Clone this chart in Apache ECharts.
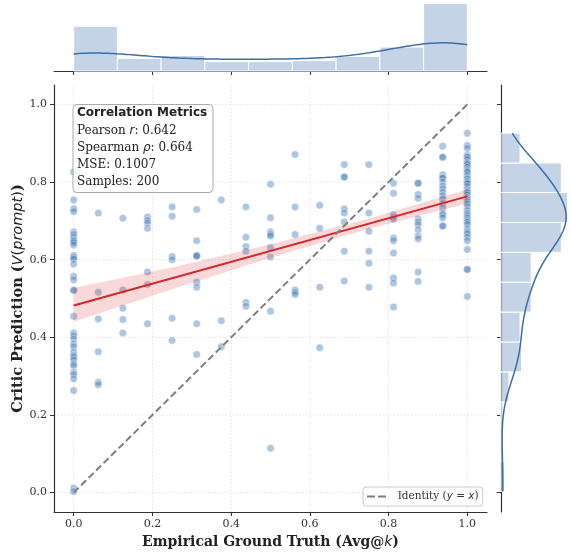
<!DOCTYPE html>
<html><head><meta charset="utf-8">
<script src="https://cdn.jsdelivr.net/npm/echarts@6/dist/echarts.min.js"></script>
<style>html,body{margin:0;padding:0;background:#fff}#c{width:571px;height:554px}</style>
</head><body><div id="c"></div>
<script>
// ---------------- data ----------------
const gtLevels = [0, 0.0625, 0.125, 0.1875, 0.25, 0.3125, 0.375, 0.4375, 0.5, 0.5625, 0.625, 0.6875, 0.75, 0.8125, 0.875, 0.9375, 1.0];
const predAt00 = [0.826,0.754,0.731,0.724,0.671,0.665,0.658,0.651,0.648,0.644,0.638,0.611,0.606,0.602,0.589,0.557,0.548,0.521,0.521,0.454,0.411,0.404,0.396,0.383,0.376,0.362,0.353,0.349,0.342,0.332,0.327,0.31,0.304,0.293,0.263,0.012,0.003];
const predAt01 = [0.72,0.516,0.447,0.363,0.284,0.278];
const predAt02 = [0.707,0.522,0.475,0.446,0.411];
const predAt03 = [0.71,0.701,0.695,0.681,0.568,0.536,0.435];
const predAt04 = [0.736,0.712,0.608,0.6,0.449,0.392];
const predAt05 = [0.729,0.649,0.611,0.611,0.609,0.542,0.529,0.435,0.356];
const predAt06 = [0.754,0.443,0.376];
const predAt07 = [0.736,0.658,0.634,0.622,0.49,0.48];
const predAt08 = [0.794,0.708,0.671,0.665,0.661,0.631,0.607,0.467,0.114];
const predAt09 = [0.871,0.736,0.665,0.522,0.516,0.51];
const predAt10 = [0.74,0.681,0.529,0.373];
const predAt11 = [0.845,0.813,0.813,0.731,0.72,0.697,0.622,0.545];
const predAt12 = [0.845,0.72,0.673,0.622,0.591,0.529];
const predAt13 = [0.797,0.771,0.716,0.71,0.704,0.656,0.649,0.617,0.553,0.54,0.478];
const predAt14 = [0.797,0.797,0.768,0.758,0.705,0.697,0.69,0.677,0.661,0.654,0.568,0.544];
const predAt15 = [0.892,0.864,0.864,0.819,0.812,0.81,0.8,0.79,0.783,0.774,0.765,0.757,0.745,0.734,0.72,0.716,0.708,0.688,0.686];
const predAt16 = [0.926,0.894,0.887,0.87,0.866,0.864,0.858,0.851,0.848,0.845,0.838,0.832,0.828,0.825,0.817,0.811,0.808,0.802,0.799,0.796,0.789,0.781,0.776,0.773,0.767,0.76,0.755,0.75,0.744,0.737,0.727,0.72,0.714,0.708,0.701,0.697,0.691,0.68,0.672,0.667,0.658,0.649,0.626,0.575,0.575,0.505];
const predByLevel = [predAt00,predAt01,predAt02,predAt03,predAt04,predAt05,predAt06,predAt07,predAt08,predAt09,predAt10,predAt11,predAt12,predAt13,predAt14,predAt15,predAt16];

const topHistEdges = [0, 0.1111, 0.2222, 0.3333, 0.4444, 0.5556, 0.6667, 0.7778, 0.8889, 1.0];
const topHistCounts = [43, 12, 15, 9, 9, 10, 14, 23, 65];
const rightHistEdges = [0.003, 0.080, 0.157, 0.234, 0.311, 0.388, 0.465, 0.542, 0.619, 0.696, 0.773, 0.849, 0.926];
const rightHistCounts = [2, 0, 0, 5, 13, 12, 19, 19, 38, 42, 38, 12];

const regX = [0, 1];
const regY = [0.482, 0.763];
const ciX = [0, 0.25, 0.5, 0.75, 1.0];
const ciLow = [0.440, 0.524, 0.605, 0.680, 0.745];
const ciHigh = [0.527, 0.580, 0.640, 0.706, 0.781];
const identityX = [0, 1];
const identityY = [0, 1];
const tickValues = [0, 0.2, 0.4, 0.6, 0.8, 1.0];
const metricTitle = 'Correlation Metrics';
const metricLines = ['Pearson {m|r}: 0.642', 'Spearman {m|ρ}: 0.664', 'MSE: 0.1007', 'Samples: 200'];

// ---------------- derived ----------------
const scatterData = [];
gtLevels.forEach((x, i) => predByLevel[i].forEach(y => scatterData.push([x, y])));
const allX = scatterData.map(d => d[0]);
const allY = scatterData.map(d => d[1]);

function kde(vals, lo, hi, n, scale) {
  const N = vals.length;
  const mean = vals.reduce((a, b) => a + b, 0) / N;
  const sd = Math.sqrt(vals.reduce((a, b) => a + (b - mean) * (b - mean), 0) / (N - 1));
  const bw = sd * Math.pow(N, -0.2);
  const out = [];
  for (let i = 0; i < n; i++) {
    const x = lo + (hi - lo) * i / (n - 1);
    let s = 0;
    for (const v of vals) { const z = (x - v) / bw; s += Math.exp(-0.5 * z * z); }
    s /= (N * bw * Math.sqrt(2 * Math.PI));
    out.push([x, s * N * scale]);
  }
  return out;
}
const topKde = kde(allX, Math.min(...allX), Math.max(...allX), 150, topHistEdges[1] - topHistEdges[0]);
const rightKde = kde(allY, Math.min(...allY), Math.max(...allY), 150, rightHistEdges[1] - rightHistEdges[0]).map(d => [d[1], d[0]]);

const topBars = topHistCounts.map((c, i) => [topHistEdges[i], topHistEdges[i + 1], c]);
const rightBars = rightHistCounts.map((c, i) => [rightHistEdges[i], rightHistEdges[i + 1], c]);

const SERIF = "'DejaVu Serif', serif";
const SANS = "'DejaVu Sans', sans-serif";
const axisCol = '#333';
const mathStyle = (size, color) => ({fontFamily: SANS, fontStyle: 'italic', fontWeight: 'normal', fontSize: size, color: color});
const mathUp = (size, color) => ({fontFamily: SANS, fontStyle: 'normal', fontWeight: 'normal', fontSize: size, color: color});

const chart = echarts.init(document.getElementById('c'), null, {renderer: 'canvas'});
const mainRange = {min: -0.05, max: 1.05};
chart.setOption({
  animation: false,
  backgroundColor: '#fff',
  grid: [
    {left: 54, top: 85, width: 433, height: 427},
    {left: 54, top: -1.5, width: 433, height: 72.5},
    {left: 501, top: 85, width: 71, height: 427}
  ],
  xAxis: [
    {gridIndex: 0, type: 'value', min: mainRange.min, max: mainRange.max,
     name: 'Empirical Ground Truth (Avg@{m|k})', nameLocation: 'middle', nameGap: 21,
     nameTextStyle: {fontFamily: SERIF, fontWeight: 'bold', fontSize: 14, color: '#222',
       rich: {m: mathStyle(14, '#222')}},
     axisLine: {show: true, onZero: false, lineStyle: {color: axisCol, width: 1.2}},
     axisTick: {show: true, length: 4, customValues: tickValues, lineStyle: {color: axisCol, width: 1}},
     axisLabel: {customValues: tickValues, fontFamily: SERIF, fontSize: 11, color: '#333', margin: 7,
       formatter: v => v.toFixed(1)},
     splitLine: {show: false}},
    {gridIndex: 1, type: 'value', min: mainRange.min, max: mainRange.max,
     axisLine: {show: true, onZero: false, lineStyle: {color: axisCol, width: 1.2}},
     axisTick: {show: true, length: 4, customValues: tickValues, lineStyle: {color: axisCol}},
     axisLabel: {show: false}, splitLine: {show: false}},
    {gridIndex: 2, type: 'value', min: 0, max: 42 * 1.05,
     axisLine: {show: false}, axisTick: {show: false}, axisLabel: {show: false}, splitLine: {show: false}}
  ],
  yAxis: [
    {gridIndex: 0, type: 'value', min: mainRange.min, max: mainRange.max,
     name: 'Critic Prediction ({m|V}{u|(}{m|prompt}{u|)})', nameLocation: 'middle', nameGap: 28, nameRotate: 90,
     nameMoveOverlap: false,
     nameTextStyle: {fontFamily: SERIF, fontWeight: 'bold', fontSize: 14.5, color: '#222',
       rich: {m: mathStyle(14.5, '#222'), u: mathUp(14.5, '#222')}},
     axisLine: {show: true, onZero: false, lineStyle: {color: axisCol, width: 1.2}},
     axisTick: {show: true, length: 4, customValues: tickValues, lineStyle: {color: axisCol}},
     axisLabel: {customValues: tickValues, fontFamily: SERIF, fontSize: 11, color: '#333', margin: 7,
       formatter: v => v.toFixed(1)},
     splitLine: {show: false}},
    {gridIndex: 1, type: 'value', min: 0, max: 65 * 1.05,
     axisLine: {show: false}, axisTick: {show: false}, axisLabel: {show: false}, splitLine: {show: false}},
    {gridIndex: 2, type: 'value', min: mainRange.min, max: mainRange.max,
     axisLine: {show: true, onZero: false, lineStyle: {color: axisCol, width: 1.2}},
     axisTick: {show: true, length: 4, customValues: tickValues, lineStyle: {color: axisCol}},
     axisLabel: {show: false}, splitLine: {show: false}}
  ],
  legend: {
    data: [{name: 'Identity', icon: 'path://M0,0h8v2h-8z M11,0h8v2h-8z'}],
    left: 363, top: 487, orient: 'horizontal',
    itemWidth: 19, itemHeight: 2, itemGap: 10, padding: [4, 4, 4, 4],
    borderColor: '#cccccc', borderWidth: 1, borderRadius: 3, backgroundColor: 'rgba(255,255,255,0.85)',
    formatter: () => '  Identity ({m|y} = {m|x})',
    textStyle: {fontFamily: SERIF, fontSize: 10.5, color: '#333',
      rich: {m: mathStyle(10.5, '#333')}}
  },
  graphic: [
    {type: 'rect', left: 72.5, top: 104, z: 100,
     shape: {width: 140, height: 88, r: 4},
     style: {fill: 'rgba(255,255,255,0.85)', stroke: '#aaaaaa', lineWidth: 1}},
    {type: 'text', x: 77, y: 113.2, z: 101,
     style: {text: metricTitle, font: "bold 12px 'DejaVu Sans'", fill: '#222', verticalAlign: 'middle'}},
    ...metricLines.map((t, i) => ({type: 'text', x: 77, y: 130.4 + i * 17.2, z: 101,
      style: {text: t, fontFamily: SERIF, fontSize: 12, fill: '#222', verticalAlign: 'middle',
        rich: {m: {fontFamily: SANS, fontStyle: 'italic', fontSize: 12, fill: '#222'}}}}))
  ],
  series: [
    {type: 'custom', name: 'grid', xAxisIndex: 0, yAxisIndex: 0, silent: true, z: 0,
     data: tickValues.map(v => [v, v]),
     renderItem: (params, api) => {
       const v = api.value(0);
       const a = api.coord([v, mainRange.min]), b = api.coord([v, mainRange.max]);
       const c = api.coord([mainRange.min, v]), d = api.coord([mainRange.max, v]);
       const st = {stroke: '#dcdcdc', lineWidth: 0.8, lineDash: [1.5, 2]};
       return {type: 'group', children: [
         {type: 'line', shape: {x1: a[0], y1: a[1], x2: b[0], y2: b[1]}, style: st},
         {type: 'line', shape: {x1: c[0], y1: c[1], x2: d[0], y2: d[1]}, style: st}
       ]};
     }},
    {type: 'scatter', name: 'samples', xAxisIndex: 0, yAxisIndex: 0, z: 2,
     data: scatterData, symbolSize: 7.5,
     itemStyle: {color: 'rgba(70,126,186,0.55)', borderColor: '#ffffff', borderWidth: 0.5}},
    {type: 'custom', name: 'ci', xAxisIndex: 0, yAxisIndex: 0, z: 3, silent: true,
     data: [[0, 0]],
     renderItem: (params, api) => {
       const pts = [];
       ciX.forEach((x, i) => pts.push(api.coord([x, ciHigh[i]])));
       for (let i = ciX.length - 1; i >= 0; i--) pts.push(api.coord([ciX[i], ciLow[i]]));
       return {type: 'polygon', shape: {points: pts}, style: {fill: 'rgba(214,39,40,0.18)'}};
     }},
    {type: 'line', name: 'fit', xAxisIndex: 0, yAxisIndex: 0, z: 4, symbol: 'none',
     data: regX.map((x, i) => [x, regY[i]]),
     lineStyle: {color: '#d62728', width: 2}},
    {type: 'line', name: 'Identity', xAxisIndex: 0, yAxisIndex: 0, z: 5, symbol: 'none',
     data: identityX.map((x, i) => [x, identityY[i]]),
     itemStyle: {color: '#7f7f7f'},
     lineStyle: {color: '#7f7f7f', width: 2, type: [7, 3.5]}},
    {type: 'custom', name: 'topHist', xAxisIndex: 1, yAxisIndex: 1, z: 2,
     data: topBars,
     renderItem: (params, api) => {
       const p0 = api.coord([api.value(0), api.value(2)]), p1 = api.coord([api.value(1), 0]);
       return {type: 'rect', shape: {x: p0[0], y: p0[1], width: p1[0] - p0[0], height: p1[1] - p0[1]},
         style: {fill: 'rgba(74,118,180,0.32)', stroke: '#ffffff', lineWidth: 1}};
     }},
    {type: 'line', name: 'topKde', xAxisIndex: 1, yAxisIndex: 1, z: 3, symbol: 'none',
     data: topKde, lineStyle: {color: '#3a6ea8', width: 1.5}},
    {type: 'custom', name: 'rightHist', xAxisIndex: 2, yAxisIndex: 2, z: 2,
     data: rightBars,
     renderItem: (params, api) => {
       const p0 = api.coord([api.value(2), api.value(1)]), p1 = api.coord([0, api.value(0)]);
       return {type: 'rect', shape: {x: p1[0], y: p0[1], width: p0[0] - p1[0], height: p1[1] - p0[1]},
         style: {fill: 'rgba(74,118,180,0.32)', stroke: '#ffffff', lineWidth: 1}};
     }},
    {type: 'line', name: 'rightKde', xAxisIndex: 2, yAxisIndex: 2, z: 3, symbol: 'none',
     data: rightKde, lineStyle: {color: '#3a6ea8', width: 1.5}}
  ]
});
</script></body></html>
